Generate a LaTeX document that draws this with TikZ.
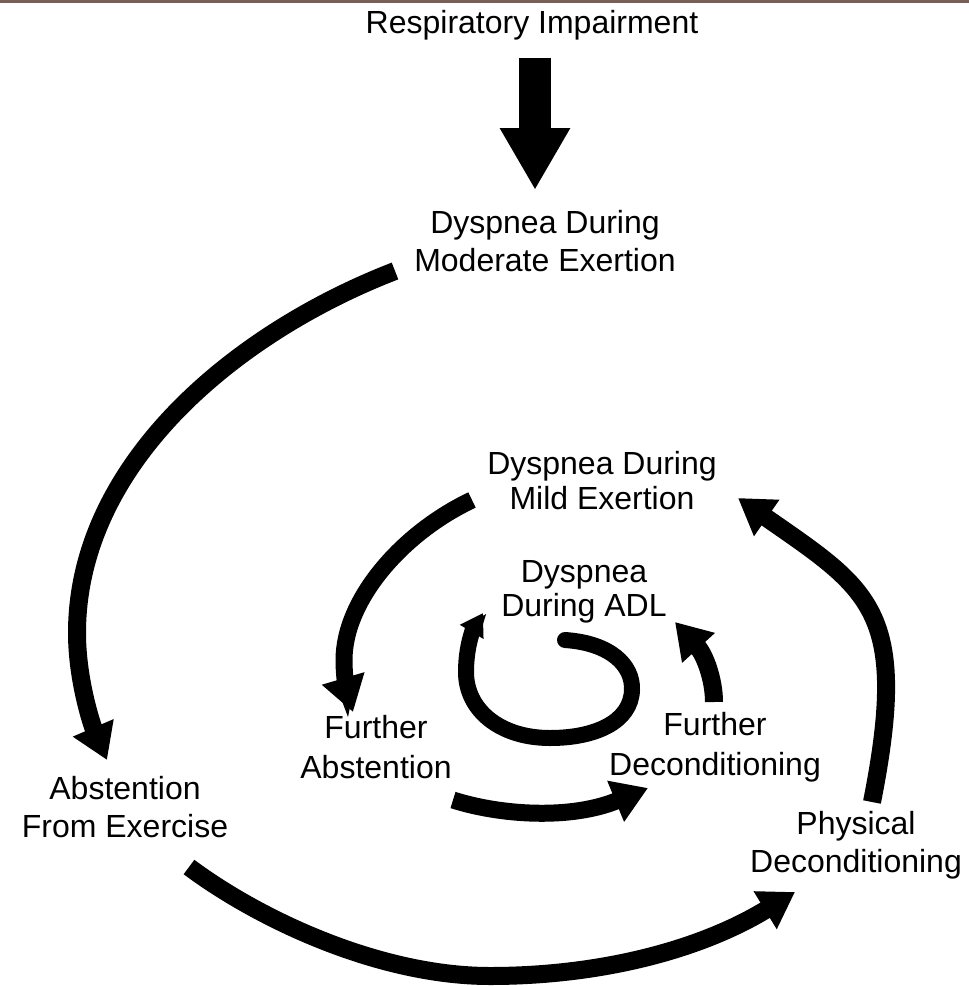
\documentclass[tikz,border=0pt]{standalone}
\usepackage{fontspec}
\setmainfont{Liberation Sans}
\usetikzlibrary{arrows.meta,positioning}
\definecolor{topline}{RGB}{120,96,88}

\begin{document}
\begin{tikzpicture}[x=1pt,y=-1pt,
        stage/.style={align=center,font=\fontsize{32}{38}\selectfont,inner sep=0pt},
        flowarrow/.style={line width=18pt,-{Triangle[width=42pt,length=35pt]}}]
        \useasboundingbox (0,0) rectangle (969,986);
        \fill[topline] (0,0) rectangle (969,3);

        % Stages
        \node[stage] (resp) at (532,25) {Respiratory Impairment};
        \node[stage] (moderate) at (545,241) {Dyspnea During\\Moderate Exertion};
        \node[stage,font=\fontsize{32}{35}\selectfont] (mild) at (602,481) {Dyspnea During\\Mild Exertion};
        \node[stage,font=\fontsize{32}{34}\selectfont] (adl) at (584,592) {Dyspnea\\During ADL};
        \node[stage,font=\fontsize{32}{40}\selectfont] (furtherab) at (376,747) {Further\\Abstention};
        \node[stage,font=\fontsize{32}{40}\selectfont] (furtherdec) at (715,747) {Further\\Deconditioning};
        \node[stage] (abstention) at (125,807) {Abstention\\From Exercise};
        \node[stage] (physical) at (856,845) {Physical\\Deconditioning};

        % Arrow ends
        \coordinate (r1) at (535,58);
        \coordinate (r2) at (535,190);
        \coordinate (a1) at (395,271);
        \coordinate (a2) at (107,760);
        \coordinate (b1) at (189,867);
        \coordinate (b2) at (795,892);
        \coordinate (c1) at (872,802);
        \coordinate (c2) at (738,498);
        \coordinate (d1) at (472,500);
        \coordinate (d2) at (353,712);
        \coordinate (e1) at (453,800);
        \coordinate (e2) at (648,788);
        \coordinate (f1) at (714,702);
        \coordinate (f2) at (675,622);
        \coordinate (g1) at (565,640);
        \coordinate (g2) at (483,613);

        % Arrows
        \draw[line width=32pt,-{Triangle[width=66pt,length=62pt]}] (r1) -- (r2);
        \draw[flowarrow] (a1) .. controls (237,332) and (77,463) .. (77,633)
                .. controls (77,680) and (92,725) .. (a2);
        \draw[flowarrow] (b1) .. controls (260,920) and (380,976) .. (490,976)
                .. controls (600,976) and (700,950) .. (b2);
        \draw[flowarrow] (c1) .. controls (910,610) and (870,590) .. (c2);
        \draw[flowarrow,line width=17pt] (d1) .. controls (402,533) and (344,600) .. (344,660)
                .. controls (344,680) and (348,695) .. (d2);
        \draw[flowarrow,line width=17pt] (e1) .. controls (500,815) and (570,820) .. (e2);
        \draw[flowarrow] (f1) .. controls (714,680) and (705,655) .. (f2);
        \draw[line width=16pt,line cap=round,-{Triangle[width=26pt,length=22pt]}] (g1)
                .. controls (610,643) and (633,665) .. (632,690)
                .. controls (631,722) and (595,738) .. (550,738)
                .. controls (500,738) and (466,710) .. (466,672)
                .. controls (466,645) and (474,628) .. (g2);
\end{tikzpicture}
\end{document}
